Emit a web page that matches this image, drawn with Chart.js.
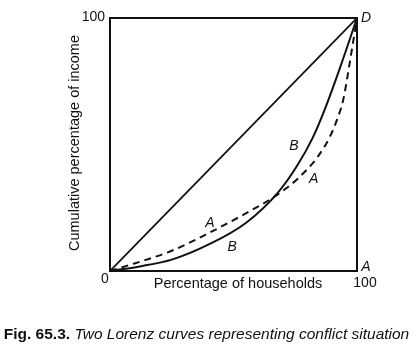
<!DOCTYPE html>
<html>
<head>
<meta charset="utf-8">
<script src="https://cdn.jsdelivr.net/npm/chart.js@4/dist/chart.umd.min.js"></script>
<style>
html,body{margin:0;padding:0;background:#fff;}
#wrap{width:413px;height:348px;position:relative;}
</style>
</head>
<body>
<div id="wrap"><canvas id="c" width="413" height="348"></canvas></div>
<script>
// Percentage of households (x) and cumulative percentage of income (y)
const equalityX = [0, 100];
const equalityY = [0, 100];
const curveAX = [0, 5, 25, 40, 55, 67.5, 76, 84, 89, 92, 94.5, 97, 100];
const curveAY = [0, 1.5, 8, 15, 22.8, 30, 36.5, 45, 53, 60, 68, 82, 100];
const curveBX = [0, 12, 25, 40, 55, 68, 76, 82, 87, 93, 100];
const curveBY = [0, 1.8, 4.5, 10.5, 19, 31, 42, 52.5, 64, 80, 100];
const axisTicks = ['0', '100'];
const xTitle = 'Percentage of households';
const yTitle = 'Cumulative percentage of income';
const captionBold = 'Fig. 65.3.';
const captionItalic = ' Two Lorenz curves representing conflict situation';

const pts = (xs, ys) => xs.map((x, i) => ({x: x, y: ys[i]}));

const FONT = '"Liberation Sans", Arial, sans-serif';

const decor = {
  id: 'decor',
  afterDatasetsDraw(chart) {
    const ctx = chart.ctx;
    const a = chart.chartArea;
    const xs = chart.scales.x, ys = chart.scales.y;
    ctx.save();
    // box
    ctx.strokeStyle = '#111';
    ctx.lineWidth = 2;
    ctx.strokeRect(a.left, a.top, a.right - a.left, a.bottom - a.top);
    ctx.fillStyle = '#111';
    // tick labels
    ctx.font = '14px ' + FONT;
    ctx.textBaseline = 'middle';
    ctx.textAlign = 'right';
    ctx.fillText(axisTicks[1], a.left - 5, ys.getPixelForValue(100) - 1);
    ctx.textAlign = 'center';
    ctx.fillText(axisTicks[0], a.left - 5, a.bottom + 8);
    ctx.fillText(axisTicks[1], xs.getPixelForValue(100) + 8, a.bottom + 12);
    // axis titles
    ctx.font = '14.5px ' + FONT;
    ctx.fillText(xTitle, 238, a.bottom + 13);
    ctx.save();
    ctx.translate(75, 143);
    ctx.rotate(-Math.PI / 2);
    ctx.fillText(yTitle, 0, 0);
    ctx.restore();
    // point letters
    ctx.font = 'italic 14px ' + FONT;
    ctx.textAlign = 'center';
    ctx.fillText('D', xs.getPixelForValue(100) + 9, ys.getPixelForValue(100));
    ctx.fillText('A', xs.getPixelForValue(100) + 9, ys.getPixelForValue(0) - 4);
    ctx.fillText('B', xs.getPixelForValue(74.5), ys.getPixelForValue(49.5));
    ctx.fillText('A', xs.getPixelForValue(82.5), ys.getPixelForValue(36.5));
    ctx.fillText('A', xs.getPixelForValue(40.5), ys.getPixelForValue(19));
    ctx.fillText('B', xs.getPixelForValue(49.5), ys.getPixelForValue(9.5));
    // caption
    ctx.textAlign = 'left';
    const bfont = 'bold 15.5px ' + FONT;
    const ifont = 'italic 15.5px ' + FONT;
    ctx.font = bfont;
    const bw = ctx.measureText(captionBold).width;
    ctx.font = ifont;
    const iw = ctx.measureText(captionItalic).width;
    const startX = (413 - bw - iw) / 2;
    ctx.font = bfont;
    ctx.fillText(captionBold, startX, 335);
    ctx.font = ifont;
    ctx.fillText(captionItalic, startX + bw, 335);
    ctx.restore();
  }
};

new Chart(document.getElementById('c'), {
  type: 'scatter',
  data: {
    datasets: [
      {label: 'Equality', data: pts(equalityX, equalityY), showLine: true, borderColor: '#111', borderWidth: 1.8, pointRadius: 0, tension: 0},
      {label: 'A', data: pts(curveAX, curveAY), showLine: true, borderColor: '#111', borderWidth: 2, borderDash: [7, 5], pointRadius: 0, cubicInterpolationMode: 'monotone'},
      {label: 'B', data: pts(curveBX, curveBY), showLine: true, borderColor: '#111', borderWidth: 2, pointRadius: 0, cubicInterpolationMode: 'monotone'}
    ]
  },
  options: {
    responsive: false,
    animation: false,
    events: [],
    layout: {padding: {left: 110, right: 56, top: 18, bottom: 77}},
    plugins: {legend: {display: false}, tooltip: {enabled: false}, title: {display: false}},
    scales: {
      x: {type: 'linear', min: 0, max: 100, display: false},
      y: {type: 'linear', min: 0, max: 100, display: false}
    }
  },
  plugins: [decor]
});
</script>
</body>
</html>
